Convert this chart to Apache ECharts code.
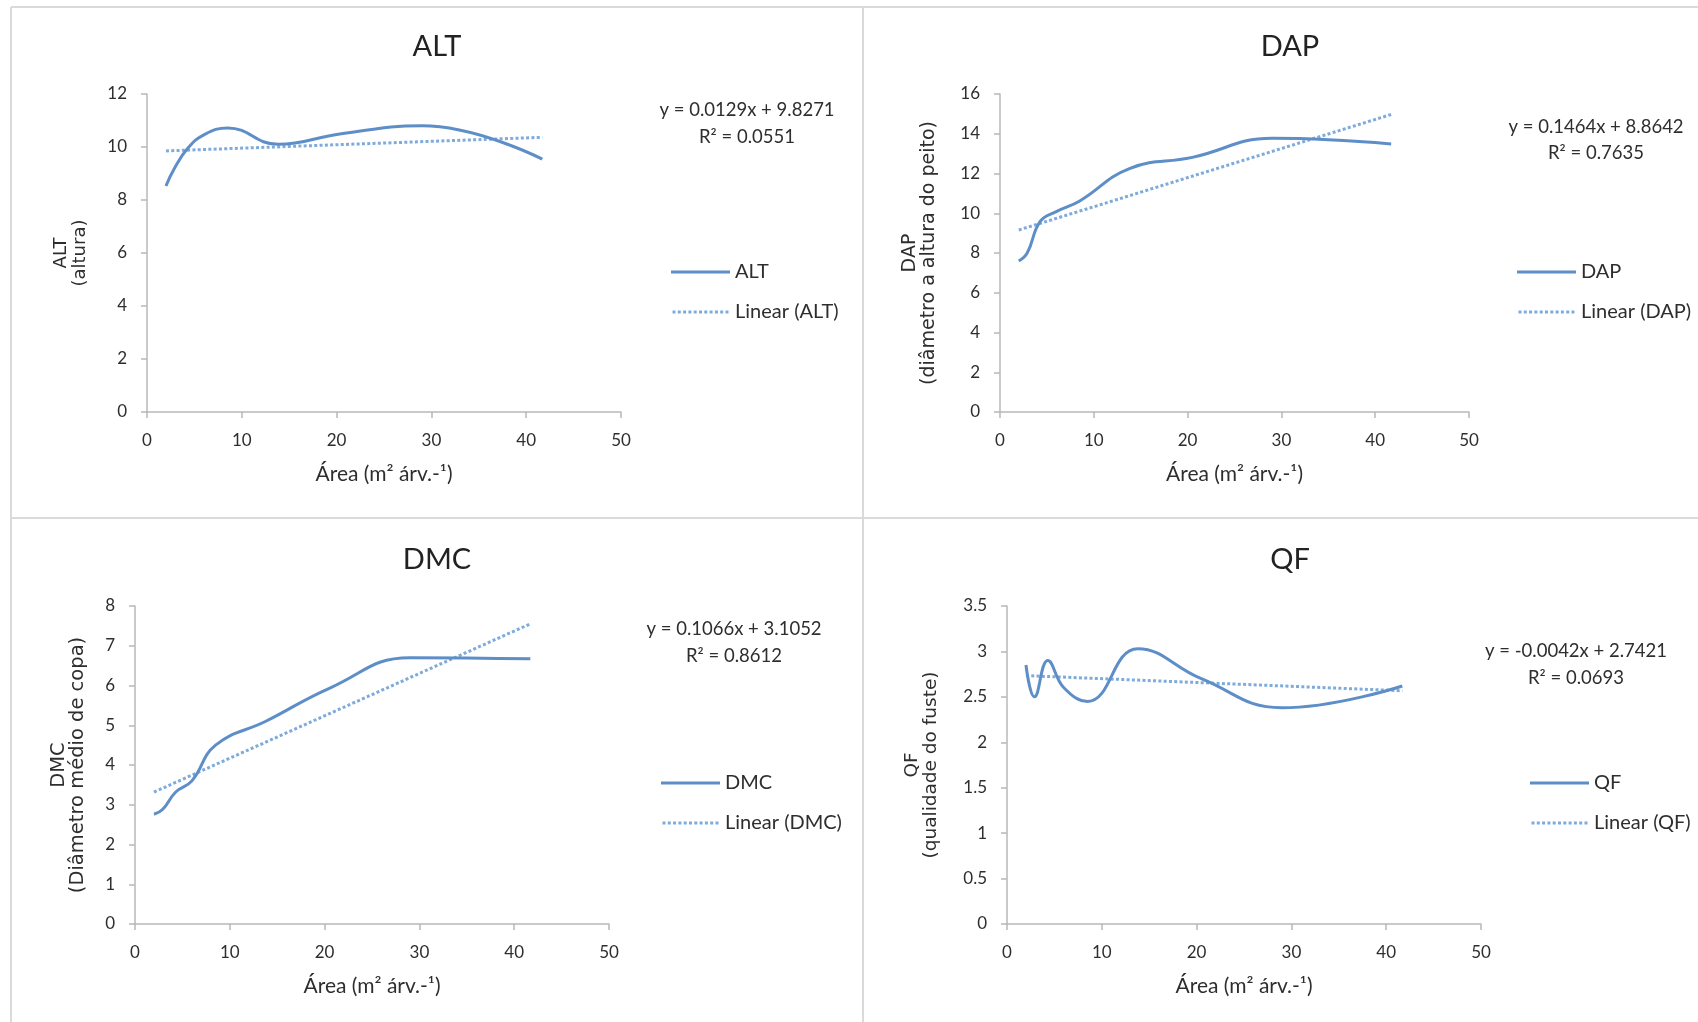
<!DOCTYPE html>
<html>
<head>
<meta charset="utf-8">
<script src="https://cdn.jsdelivr.net/npm/echarts@6/dist/echarts.min.js"></script>
<style>
html,body{margin:0;padding:0;background:#ffffff;}
#chart{width:1698px;height:1022px;}
</style>
</head>
<body>
<div id="chart"></div>
<script>
// ---------------- data ----------------
const AREA_X = [2, 2.9, 4.3, 6, 8.5, 13.8, 20.5, 29, 41.7];
const ALT_VALUES = [8.53, 9.2, 9.95, 10.46, 10.72, 10.1, 10.5, 10.8, 9.54];
const DAP_VALUES = [7.6, 8.0, 9.6, 10.08, 10.62, 12.25, 12.81, 13.77, 13.49];
const DMC_VALUES = [2.76, 2.88, 3.32, 3.6, 4.5, 5.1, 5.93, 6.7, 6.67];
const QF_VALUES = [2.85, 2.5, 2.9, 2.6, 2.45, 3.03, 2.7, 2.38, 2.62];

const PANEL_NAMES = ['ALT', 'DAP', 'DMC', 'QF'];
const Y_AXIS_NAMES = ['ALT\n(altura)', 'DAP\n(diâmetro a altura do peito)', 'DMC\n(Diâmetro médio de copa)', 'QF\n(qualidade do fuste)'];
const X_AXIS_NAME = 'Área (m² árv.-¹)';
const X_MIN = 0, X_MAX = 50, X_INTERVAL = 10;
const Y_MAX = [12, 16, 8, 3.5];
const Y_INTERVAL = [2, 2, 1, 0.5];
const TREND_SLOPE = [0.0129, 0.1464, 0.1066, -0.0042];
const TREND_INTERCEPT = [9.8271, 8.8642, 3.1052, 2.7421];
const TREND_EQUATION = ['y = 0.0129x + 9.8271', 'y = 0.1464x + 8.8642', 'y = 0.1066x + 3.1052', 'y = -0.0042x + 2.7421'];
const TREND_R2 = ['R² = 0.0551', 'R² = 0.7635', 'R² = 0.8612', 'R² = 0.0693'];
const SERIES_VALUES = [ALT_VALUES, DAP_VALUES, DMC_VALUES, QF_VALUES];

// ---------------- layout / style ----------------
const GRIDS = [
  {left: 147, top: 94, width: 474, height: 318},
  {left: 1000, top: 94, width: 469, height: 318},
  {left: 135, top: 606, width: 474, height: 318},
  {left: 1007, top: 606, width: 474, height: 318}
];
const Y_NAME_GAP = [57, 61, 48, 66];
const Y_NAME_SIZE = [18, 19, 19.5, 18.5];
const TITLE_POS = [[437, 47], [1290, 47], [437, 560], [1290, 560]];
const EQ_POS = [[747, 124], [1596, 140], [734, 643], [1576, 665]];
const EQ_LINE_H = [27, 26, 27, 27];
const LEGEND_POS = [[671, 262], [1517, 262], [661, 773], [1530, 773]];

const FONT = 'Lato, "Open Sans", sans-serif';
const LINE_COLOR = '#5d8ec8';
const TREND_COLOR = '#7eabdb';
const AXIS_COLOR = '#b8b8b8';
const TEXT_COLOR = '#2e2e2e';
const BORDER_COLOR = '#dadada';

// dotted legend icon (small squares)
let dotPath = 'path://';
for (let i = 0; i < 11; i++) {
  const x = (i * 5.3).toFixed(1);
  dotPath += 'M' + x + ',0h3v3h-3z';
}

const grid = [], xAxis = [], yAxis = [], series = [], legend = [], graphic = [];

// panel borders
graphic.push({type: 'line', shape: {x1: 11, y1: 7, x2: 1698, y2: 7}, style: {stroke: BORDER_COLOR, lineWidth: 2}, silent: true});
graphic.push({type: 'line', shape: {x1: 11, y1: 7, x2: 11, y2: 1022}, style: {stroke: BORDER_COLOR, lineWidth: 2}, silent: true});
graphic.push({type: 'line', shape: {x1: 863, y1: 7, x2: 863, y2: 1022}, style: {stroke: BORDER_COLOR, lineWidth: 2}, silent: true});
graphic.push({type: 'line', shape: {x1: 11, y1: 518, x2: 1698, y2: 518}, style: {stroke: BORDER_COLOR, lineWidth: 2}, silent: true});

PANEL_NAMES.forEach((name, i) => {
  grid.push(Object.assign({containLabel: false}, GRIDS[i]));
  xAxis.push({
    type: 'value', gridIndex: i, min: X_MIN, max: X_MAX, interval: X_INTERVAL,
    name: X_AXIS_NAME, nameLocation: 'middle', nameGap: 52,
    nameTextStyle: {fontFamily: FONT, fontSize: 21, color: TEXT_COLOR},
    axisLine: {show: true, onZero: false, lineStyle: {color: AXIS_COLOR, width: 1.5}},
    axisTick: {show: true, inside: false, length: 6, lineStyle: {color: AXIS_COLOR, width: 1.5}},
    axisLabel: {fontFamily: FONT, fontSize: 17, color: TEXT_COLOR, margin: 20},
    splitLine: {show: false}
  });
  yAxis.push({
    type: 'value', gridIndex: i, min: 0, max: Y_MAX[i], interval: Y_INTERVAL[i],
    name: Y_AXIS_NAMES[i], nameLocation: 'middle', nameGap: Y_NAME_GAP[i], nameRotate: 90,
    nameTextStyle: {fontFamily: 'DejaVu Sans', fontSize: Y_NAME_SIZE[i], lineHeight: 19, color: TEXT_COLOR, align: 'center'},
    axisLine: {show: true, lineStyle: {color: AXIS_COLOR, width: 1.5}},
    axisTick: {show: true, inside: false, length: 6, lineStyle: {color: AXIS_COLOR, width: 1.5}},
    axisLabel: {fontFamily: FONT, fontSize: 17, color: TEXT_COLOR, margin: 20},
    splitLine: {show: false}
  });
  const vals = SERIES_VALUES[i];
  series.push({
    type: 'line', name: name, xAxisIndex: i, yAxisIndex: i,
    data: AREA_X.map((x, k) => [x, vals[k]]),
    smooth: 0.45, showSymbol: false, symbol: 'none',
    lineStyle: {color: LINE_COLOR, width: 3},
    itemStyle: {color: LINE_COLOR},
    z: 3
  });
  const x0 = AREA_X[0], x1 = AREA_X[AREA_X.length - 1];
  series.push({
    type: 'line', name: 'Linear (' + name + ')', xAxisIndex: i, yAxisIndex: i,
    data: [[x0, TREND_SLOPE[i] * x0 + TREND_INTERCEPT[i]], [x1, TREND_SLOPE[i] * x1 + TREND_INTERCEPT[i]]],
    showSymbol: false, symbol: 'none',
    lineStyle: {color: TREND_COLOR, width: 3, type: [3, 2.3], cap: 'butt'},
    itemStyle: {color: TREND_COLOR},
    z: 2
  });
  legend.push({
    orient: 'vertical', left: LEGEND_POS[i][0], top: LEGEND_POS[i][1], padding: 0,
    itemWidth: 59, itemHeight: 3, itemGap: 20,
    itemStyle: {borderWidth: 0},
    textStyle: {fontFamily: FONT, fontSize: 20, color: TEXT_COLOR, lineHeight: 20},
    data: [{name: name, icon: 'rect'}, {name: 'Linear (' + name + ')', icon: dotPath}],
    selectedMode: false
  });
  graphic.push({
    type: 'text', x: TITLE_POS[i][0], y: TITLE_POS[i][1], silent: true,
    style: {text: name, fontFamily: FONT, fontSize: 29, fill: '#222222', align: 'center', verticalAlign: 'middle'}
  });
  graphic.push({
    type: 'text', x: EQ_POS[i][0], y: EQ_POS[i][1], silent: true,
    style: {text: TREND_EQUATION[i] + '\n' + TREND_R2[i], fontFamily: FONT, fontSize: 18.5, lineHeight: EQ_LINE_H[i],
            fill: TEXT_COLOR, align: 'center', verticalAlign: 'middle'}
  });
});

const chart = echarts.init(document.getElementById('chart'), null, {renderer: 'canvas'});
chart.setOption({
  backgroundColor: '#ffffff',
  animation: false,
  grid: grid, xAxis: xAxis, yAxis: yAxis, series: series, legend: legend, graphic: graphic
});
</script>
</body>
</html>
